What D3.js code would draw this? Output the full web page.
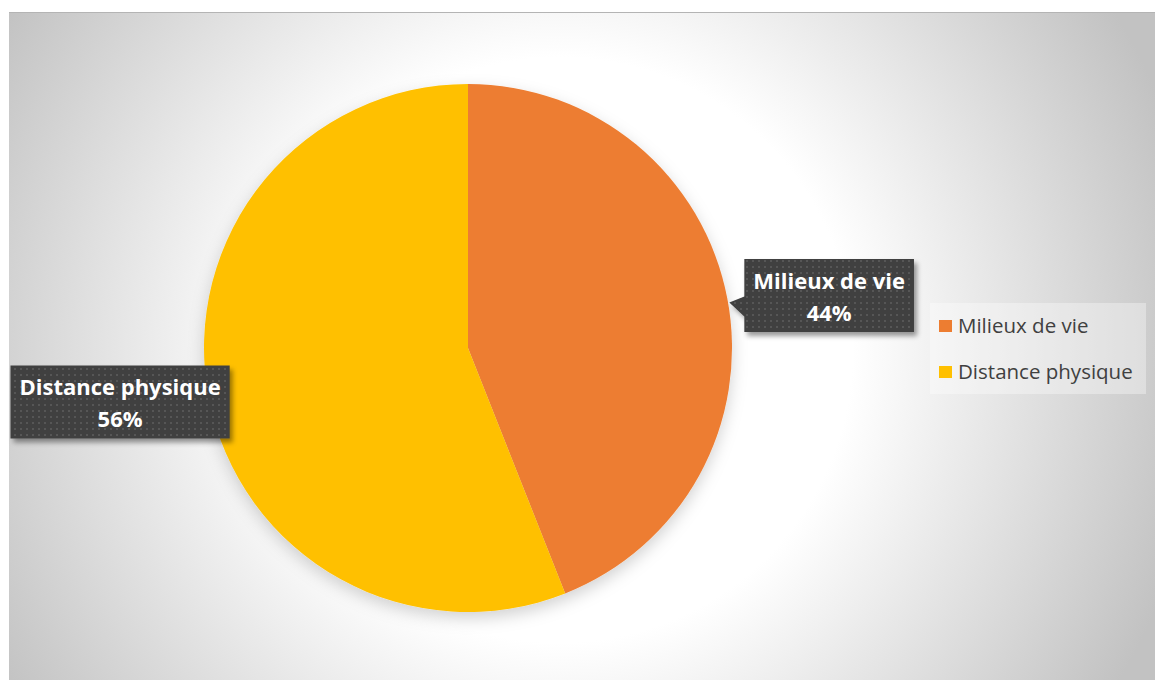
<!DOCTYPE html>
<html>
<head>
<meta charset="utf-8">
<script src="https://cdn.jsdelivr.net/npm/d3@7"></script>
<style>
  body { margin: 0; background: white; }
  svg { display: block; }
</style>
</head>
<body>
<svg id="chart"></svg>
<script>
// Pie chart: Milieux de vie vs Distance physique
var categories = ["Milieux de vie", "Distance physique"];
var values = [44, 56];
var labelTexts = ["44%", "56%"];
var colors = ["#ED7D31", "#FFC000"];

var dimensions = {
    width: 1155,
    height: 680,
    area: { x: 9, y: 12, width: 1146, height: 668 }
}

var svg = d3.select("#chart")
    .attr("width", dimensions.width)
    .attr("height", dimensions.height);

var defs = svg.append("defs");

// background radial gradient
var grad = defs.append("radialGradient")
    .attr("id", "bg")
    .attr("gradientUnits", "userSpaceOnUse")
    .attr("cx", 560).attr("cy", 350).attr("r", 650);
grad.append("stop").attr("offset", "0").attr("stop-color", "#ffffff");
grad.append("stop").attr("offset", "0.45").attr("stop-color", "#ffffff");
grad.append("stop").attr("offset", "1").attr("stop-color", "#c2c2c2");

// dotted dark pattern for labels
var pat = defs.append("pattern")
    .attr("id", "dots")
    .attr("patternUnits", "userSpaceOnUse")
    .attr("width", 6).attr("height", 6);
pat.append("rect").attr("width", 6).attr("height", 6).attr("fill", "#3f3f3f");
pat.append("rect").attr("x", 2).attr("y", 2).attr("width", 2).attr("height", 2).attr("fill", "#565656");

var shadow = defs.append("filter").attr("id", "shadow")
    .attr("x", "-20%").attr("y", "-20%").attr("width", "140%").attr("height", "150%");
shadow.append("feDropShadow")
    .attr("dx", 3).attr("dy", 4).attr("stdDeviation", 2.5)
    .attr("flood-color", "#000").attr("flood-opacity", 0.4);

var pieShadow = defs.append("filter").attr("id", "pieShadow")
    .attr("x", "-20%").attr("y", "-20%").attr("width", "140%").attr("height", "140%");
pieShadow.append("feDropShadow")
    .attr("dx", 0).attr("dy", 6).attr("stdDeviation", 8)
    .attr("flood-color", "#000").attr("flood-opacity", 0.18);

svg.append("rect")
    .attr("x", dimensions.area.x).attr("y", dimensions.area.y)
    .attr("width", dimensions.area.width).attr("height", dimensions.area.height)
    .attr("fill", "url(#bg)");
svg.append("line")
    .attr("x1", dimensions.area.x).attr("x2", dimensions.width)
    .attr("y1", dimensions.area.y + 0.5).attr("y2", dimensions.area.y + 0.5)
    .attr("stroke", "#b4b4b4");

// pie
var cx = 468, cy = 348, radius = 264;

var pie = d3.pie().sort(null).value(d => d);
var arcs = pie(values);
var arc = d3.arc().innerRadius(0).outerRadius(radius);

var g = svg.append("g")
    .attr("transform", `translate(${cx},${cy})`)
    .attr("filter", "url(#pieShadow)");

g.selectAll("path")
    .data(arcs)
    .enter()
    .append("path")
    .attr("d", arc)
    .attr("fill", (d, i) => colors[i]);

// data labels (callouts)
var font = "'Open Sans', Lato, sans-serif";

arcs.forEach((d, i) => {
    var mid = (d.startAngle + d.endAngle) / 2;
    var ex = cx + radius * Math.sin(mid);
    var ey = cy - radius * Math.cos(mid);
    var right = Math.sin(mid) > 0;

    var lg = svg.append("g");
    var t1 = lg.append("text")
        .attr("font-family", font).attr("font-weight", "bold")
        .attr("font-size", 22).attr("fill", "white")
        .attr("text-anchor", "middle")
        .text(categories[i]);
    var w = t1.node().getComputedTextLength() + 18;
    var h = 73;
    var bx = right ? ex + 17 : ex + 21 - w;
    var by = right ? ey - 3 - h / 2 : ey + 4.5 - h / 2;

    var pathD;
    if (right) {
        pathD = `M${bx},${by} H${bx + w} V${by + h} H${bx} V${ey + 18} L${ex + 2},${ey + 4} L${bx},${ey - 2} Z`;
    } else {
        pathD = `M${bx},${by} H${bx + w} V${by + h} H${bx} Z`;
    }
    lg.insert("path", "text")
        .attr("d", pathD)
        .attr("fill", "url(#dots)")
        .attr("filter", "url(#shadow)");

    t1.attr("x", bx + w / 2).attr("y", by + 30);
    lg.append("text")
        .attr("font-family", font).attr("font-weight", "bold")
        .attr("font-size", 22).attr("fill", "white")
        .attr("text-anchor", "middle")
        .attr("x", bx + w / 2).attr("y", by + 62)
        .text(labelTexts[i]);
});

// legend
svg.append("rect")
    .attr("x", 930).attr("y", 303)
    .attr("width", 216).attr("height", 91)
    .attr("fill", "#ffffff").attr("fill-opacity", 0.35);

var legend = svg.selectAll(".legend")
    .data(categories)
    .enter()
    .append("g")
    .attr("class", "legend")
    .attr("transform", (d, i) => `translate(939,${320 + i * 46})`);

legend.append("rect")
    .attr("width", 13).attr("height", 12)
    .attr("fill", (d, i) => colors[i]);

legend.append("text")
    .attr("x", 19).attr("y", 13)
    .attr("font-family", font).attr("font-size", 20.5)
    .attr("fill", "#404040")
    .text(d => d);
</script>
</body>
</html>
